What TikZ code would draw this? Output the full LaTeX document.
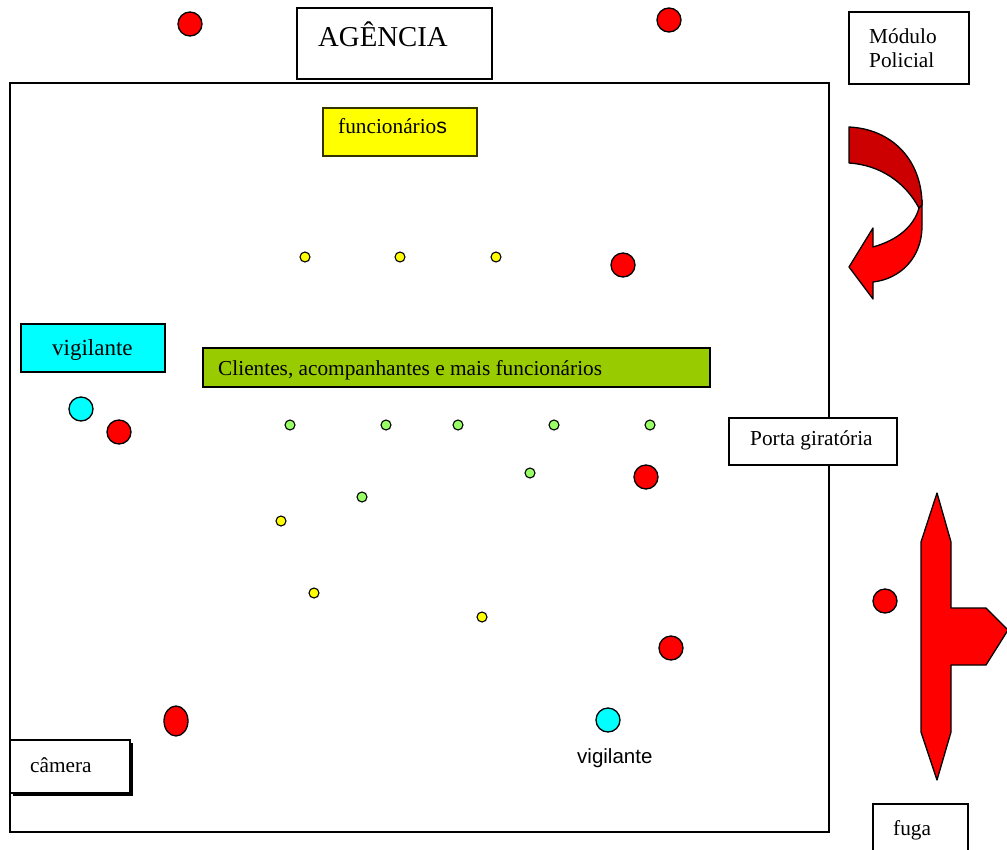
\documentclass[tikz,border=0pt]{standalone}
\usepackage{fontspec}
\setmainfont{Liberation Serif}
\newfontfamily\arialf{Liberation Sans}
\usetikzlibrary{shapes.geometric}
\definecolor{cRed}{HTML}{FF0000}
\definecolor{cDark}{HTML}{CC0000}
\definecolor{cYel}{HTML}{FFFF00}
\definecolor{cCyan}{HTML}{00FFFF}
\definecolor{cGreen}{HTML}{99CC00}
\definecolor{cLight}{HTML}{99FF66}
\definecolor{cOlive}{HTML}{333300}
\begin{document}
\begin{tikzpicture}[x=1pt,y=-1pt,
  box/.style={draw=black,line width=1.5pt,rectangle,inner sep=0pt},
  txt/.style={anchor=base west,inner sep=0pt,font=\fontsize{21.3}{24}\selectfont},
  bigdot/.style={circle,draw=black,line width=1.3pt,minimum size=24pt,inner sep=0pt},
  smalldot/.style={circle,draw=black,line width=1.1pt,minimum size=10pt,inner sep=0pt},
  arrowshape/.style={draw=black,line width=1.3pt,line join=round}]
\useasboundingbox (0,0) rectangle (1007,849);
% main rectangle
\node[box,minimum width=819pt,minimum height=749pt] (main) at (419.5,457.5) {};
% boxes
\node[box,fill=white,minimum width=195pt,minimum height=71pt] (agencia) at (394.5,43.5) {};
\node[anchor=base west,inner sep=0pt,font=\fontsize{28.8}{30}\selectfont] (agenciaT) at (318,46) {AGÊNCIA};
\node[box,minimum width=120pt,minimum height=72pt] (modulo) at (909,48) {};
\node[txt] (moduloT1) at (869,43) {Módulo};
\node[txt] (moduloT2) at (869,67) {Policial};
\node[box,draw=cOlive,fill=cYel,minimum width=154pt,minimum height=48pt] (func) at (400,132) {};
\node[txt] (funcT) at (338,133) {funcionário{\arialf s}};
\node[box,fill=cCyan,minimum width=144pt,minimum height=48pt] (vig) at (93,348) {};
\node[anchor=base west,inner sep=0pt,font=\fontsize{23}{26}\selectfont] (vigT) at (52,355) {vigilante};
\node[box,fill=cGreen,minimum width=507pt,minimum height=39pt] (cli) at (456.5,367.5) {};
\node[txt] (cliT) at (218,375) {Clientes, acompanhantes e mais funcionários};
\node[box,fill=white,minimum width=168pt,minimum height=47pt] (porta) at (813,441.5) {};
\node[txt] (portaT) at (750,445) {Porta giratória};
\fill[black] (13,743) rectangle (133,796);
\node[box,fill=white,minimum width=120pt,minimum height=53pt] (camera) at (70,766.5) {};
\node[txt] (cameraT) at (30,772) {câmera};
\draw[line width=1.5pt] (873,855) |- (968,804) -- (968,855);
\coordinate (fugaBox) at (920,826);
\node[txt] (fugaT) at (893,835) {fuga};
% curved arrow
\draw[arrowshape,fill=cRed] (919,204) -- (922,200) -- (922,226)
  .. controls (922,258) and (900,279) .. (873,282) -- (873,299) -- (849,267)
  -- (873,228) -- (873,247) .. controls (898,240) and (914,226) .. (919,208) -- cycle;
\draw[arrowshape,fill=cDark] (849,127) .. controls (892,129) and (922,160) .. (922,205)
  -- (919,208) .. controls (905,182) and (880,165) .. (849,163) -- cycle;
% fuga arrow
\draw[arrowshape,fill=cRed] (937,493) -- (951,542) -- (951,608) -- (986,608) -- (1008,630)
  -- (986,665) -- (951,665) -- (951,732) -- (937,780) -- (921,732) -- (921,542) -- cycle;
% red dots
\node[bigdot,fill=cRed] (r1) at (190,24) {};
\node[bigdot,fill=cRed] (r2) at (669,20) {};
\node[bigdot,fill=cRed] (r3) at (623,265) {};
\node[bigdot,fill=cRed] (r4) at (119,432) {};
\node[bigdot,fill=cRed] (r5) at (646,477) {};
\node[bigdot,fill=cRed] (r6) at (885,601) {};
\node[bigdot,fill=cRed] (r7) at (671,648) {};
\node[ellipse,draw=black,line width=1.3pt,fill=cRed,minimum width=24pt,minimum height=30pt,inner sep=0pt] (r8) at (176,721) {};
% cyan dots
\node[bigdot,fill=cCyan] (c1) at (81,409) {};
\node[bigdot,fill=cCyan] (c2) at (608,720) {};
\node[anchor=base west,inner sep=0pt,font=\arialf\fontsize{20.5}{24}\selectfont] (c2T) at (577,763) {vigilante};
% yellow small dots
\node[smalldot,fill=cYel] (y1) at (305,257) {};
\node[smalldot,fill=cYel] (y2) at (400,257) {};
\node[smalldot,fill=cYel] (y3) at (496,257) {};
\node[smalldot,fill=cYel] (y4) at (281,521) {};
\node[smalldot,fill=cYel] (y5) at (314,593) {};
\node[smalldot,fill=cYel] (y6) at (482,617) {};
% green small dots
\node[smalldot,fill=cLight] (g1) at (290,425) {};
\node[smalldot,fill=cLight] (g2) at (386,425) {};
\node[smalldot,fill=cLight] (g3) at (458,425) {};
\node[smalldot,fill=cLight] (g4) at (554,425) {};
\node[smalldot,fill=cLight] (g5) at (650,425) {};
\node[smalldot,fill=cLight] (g6) at (530,473) {};
\node[smalldot,fill=cLight] (g7) at (362,497) {};
\end{tikzpicture}
\end{document}
